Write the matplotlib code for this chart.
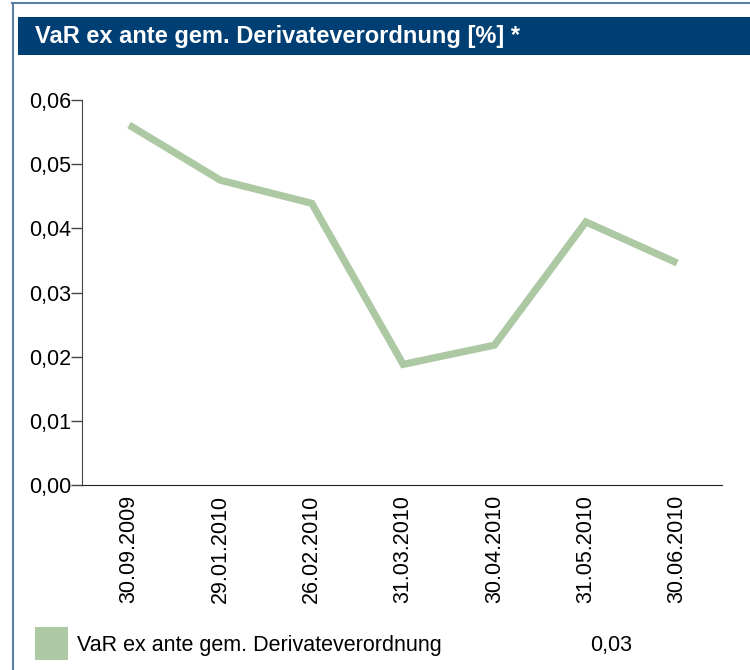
import matplotlib.pyplot as plt
from matplotlib.patches import Rectangle
from matplotlib.lines import Line2D

plt.rcParams['font.family'] = ['Liberation Sans', 'DejaVu Sans']

titel = "VaR ex ante gem. Derivateverordnung [%] *"
reihe = "VaR ex ante gem. Derivateverordnung"
letzter_wert = "0,03"
datum = ["30.09.2009", "29.01.2010", "26.02.2010", "31.03.2010",
         "30.04.2010", "31.05.2010", "30.06.2010"]
var_werte = [0.0561, 0.0475, 0.0439, 0.0188, 0.0218, 0.0410, 0.0346]
y_ticks = [0.0, 0.01, 0.02, 0.03, 0.04, 0.05, 0.06]

gruen = "#adc9a4"
blau = "#003f74"
W, H = 750, 670

fig = plt.figure(figsize=(7.5, 6.7), dpi=100)

# Rahmen oben und links
fig.add_artist(Line2D([12.5 / W, 12.5 / W], [0, 1 - 3 / H], color="#5a7fa6", lw=1.5))
fig.add_artist(Line2D([12 / W, 1], [1 - 3 / H, 1 - 3 / H], color="#5a7fa6", lw=1.5))

# Titelbalken
fig.add_artist(Rectangle((18 / W, 1 - 55 / H), 1 - 18 / W, 38 / H,
                         transform=fig.transFigure, color=blau, lw=0))
fig.text(35 / W, 1 - 36 / H, titel, color="white", fontsize=17,
         fontweight="bold", va="center", ha="left")

ax = fig.add_axes([82 / W, 1 - 485 / H, 640 / W, 385 / H])
x = list(range(len(datum)))
ax.plot(x, var_werte, color=gruen, lw=5.2, solid_joinstyle="miter",
        solid_capstyle="butt")
ax.set_xlim(-0.515, 6.49)
ax.set_ylim(0, 0.06)
ax.set_yticks(y_ticks)
ax.set_yticklabels([f"{v:.2f}".replace(".", ",") for v in y_ticks], fontsize=15.5)
ax.set_xticks(x)
ax.set_xticklabels(datum, rotation=90, fontsize=15.5)
ax.tick_params(axis="x", length=0, pad=7)
ax.tick_params(axis="y", length=8, width=1, pad=0, color="#444444")
for s in ["top", "right"]:
    ax.spines[s].set_visible(False)
ax.spines["left"].set_color("#444444")
ax.spines["bottom"].set_color("#222222")

# Legende
fig.add_artist(Rectangle((35 / W, 1 - 660 / H), 33 / W, 33 / H,
                         transform=fig.transFigure, color=gruen, lw=0))
fig.text(77 / W, 1 - 645 / H, reihe, fontsize=15.5, va="center", ha="left")
fig.text(590 / W, 1 - 645 / H, letzter_wert, fontsize=15.5, va="center", ha="left")

fig.savefig("out.png", dpi=100)
